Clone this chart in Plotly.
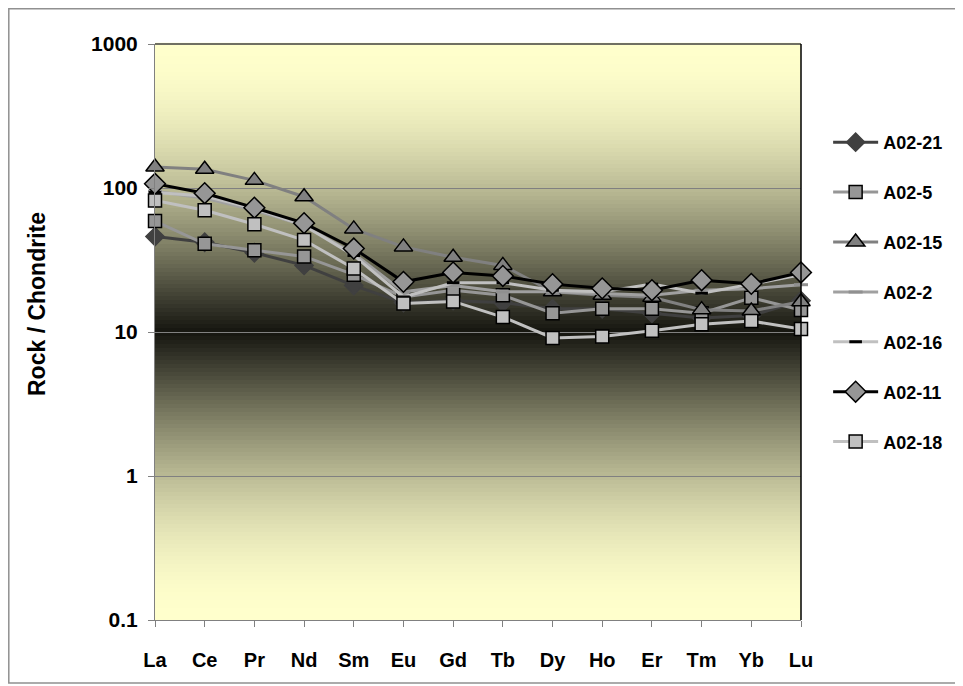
import math
import plotly.graph_objects as go

elements = ["La", "Ce", "Pr", "Nd", "Sm", "Eu", "Gd", "Tb", "Dy", "Ho", "Er", "Tm", "Yb", "Lu"]

a02_21 = [46, 42, 35.5, 29, 21, 16, 16.5, 16, 14.5, 14.5, 13.5, 12.5, 13, 16.5]
a02_5 = [59, 41, 37, 33.5, 25, 17.5, 19.5, 18, 13.5, 14.5, 14.5, 13.5, 17.3, 14.2]
a02_15 = [140, 135, 113, 87, 52, 39, 33, 29, 19, 18, 17.4, 14.3, 14, 16.2]
a02_2 = [95, 85, 70, 55, 35, 19, 21, 19, 19, 18.5, 18, 19.5, 20, 21.3]
a02_16 = [93, 88, 72, 55, 34, 17.5, 22, 22, 19.5, 19, 21.5, 18.6, 21.5, 25]
a02_11 = [107, 92, 73, 57, 38, 22.3, 25.9, 24.5, 21.5, 20.1, 19.5, 22.9, 21.6, 25.9]
a02_18 = [82, 70, 56, 43.5, 27.6, 15.8, 16.3, 12.7, 9.1, 9.3, 10.2, 11.3, 11.9, 10.5]

y_tickvals = [0.1, 1, 10, 100, 1000]
y_ticktext = ["0.1", "1", "10", "100", "1000"]
y_title = "Rock / Chondrite"

series = [
    ("A02-21", a02_21, dict(color="#404040", width=3),
     dict(symbol="diamond", size=14, color="#404040", line=dict(color="#404040", width=1.5))),
    ("A02-5", a02_5, dict(color="#969696", width=3),
     dict(symbol="square", size=13, color="#969696", line=dict(color="#000000", width=1.5))),
    ("A02-15", a02_15, dict(color="#808080", width=3),
     dict(symbol="triangle-up", size=16, color="#808080", line=dict(color="#000000", width=1.5))),
    ("A02-2", a02_2, dict(color="#a0a0a0", width=3),
     dict(symbol="line-ew", size=10, color="#909090", line=dict(color="#909090", width=3))),
    ("A02-16", a02_16, dict(color="#c0c0c0", width=3),
     dict(symbol="line-ew", size=9, color="#000000", line=dict(color="#000000", width=3))),
    ("A02-11", a02_11, dict(color="#000000", width=3),
     dict(symbol="diamond", size=16, color="#969696", line=dict(color="#000000", width=1.5))),
    ("A02-18", a02_18, dict(color="#c0c0c0", width=3),
     dict(symbol="square", size=13, color="#c0c0c0", line=dict(color="#000000", width=1.5))),
]

fig = go.Figure()
for i, (name, vals, ln, mk) in enumerate(series):
    fig.add_trace(go.Scatter(
        x=elements, y=vals, name=name, mode="lines+markers",
        line=ln, marker=mk, cliponaxis=False, legendgroup=str(i),
    ))

# gradient background of plot area (yellow at edges, dark at centre)
light = (255, 255, 204)
dark = (20, 20, 15)
N = 144
shapes = []
for i in range(N):
    c = (i + 0.5) / N
    t = abs(c - 0.5) * 2
    f = math.sin(t * math.pi / 2)
    col = tuple(int(round(dark[k] + (light[k] - dark[k]) * f)) for k in range(3))
    shapes.append(dict(type="rect", xref="x domain", yref="y domain",
                       x0=0, x1=1, y0=i / N, y1=(i + 1) / N + 0.002,
                       fillcolor="rgb(%d,%d,%d)" % col, line=dict(width=0), layer="below"))
# plot border top/right
shapes.append(dict(type="line", xref="x domain", yref="y domain", x0=0, x1=1, y0=1, y1=1,
                   line=dict(color="#404040", width=1.5), layer="above"))
shapes.append(dict(type="line", xref="x domain", yref="y domain", x0=1, x1=1, y0=0, y1=1,
                   line=dict(color="#000000", width=1.5), layer="above"))

# page body has an 8px margin, so the figure is a bit smaller and offset
OFF = 8
W, H = 963 - OFF, 686 - OFF
l, r, t, b = 155 - OFF, 162, 44 - OFF, 66
pw, ph = W - l - r, H - t - b
def px(x):
    return (x - OFF - l) / pw
def py(y):
    return (H - b - (y - OFF)) / ph
shapes.append(dict(type="rect", xref="paper", yref="paper",
                   x0=px(8.8), x1=px(960), y0=py(683), y1=py(8.8),
                   line=dict(color="#909090", width=1.5), fillcolor="rgba(0,0,0,0)", layer="below"))

FONT = "Liberation Sans, Arial, sans-serif"
fig.update_layout(
    width=W, height=H,
    margin=dict(l=l, r=r, t=t, b=b),
    paper_bgcolor="white", plot_bgcolor="white",
    font=dict(family=FONT, color="black", size=16),
    shapes=shapes,
    showlegend=True,
    legend=dict(x=1.042, xanchor="left", y=py(124), yanchor="top",
                font=dict(size=18, family=FONT, weight="bold"),
                tracegroupgap=23.5, bgcolor="rgba(0,0,0,0)", itemwidth=45),
    annotations=[dict(text=y_title, xref="paper", yref="paper", x=px(37), y=py(304),
                      xanchor="center", yanchor="middle", textangle=-90, showarrow=False,
                      font=dict(size=23, weight="bold", family=FONT, color="black"))],
)
fig.update_xaxes(
    type="category", range=[0, 13], showgrid=False,
    showline=True, linecolor="#808080", linewidth=1,
    ticks="outside", ticklen=6, tickcolor="#808080",
    tickfont=dict(size=20, weight="bold"), ticklabelstandoff=16,
)
fig.update_yaxes(
    type="log", range=[-1, 3], tickvals=y_tickvals, ticktext=y_ticktext,
    showgrid=True, gridcolor="#808080", gridwidth=1,
    showline=True, linecolor="#808080", linewidth=1,
    ticks="outside", ticklen=6, tickcolor="#808080",
    tickfont=dict(size=21, weight="bold"), ticklabelstandoff=6,
    zeroline=False,
)
fig.write_html("out.html")
